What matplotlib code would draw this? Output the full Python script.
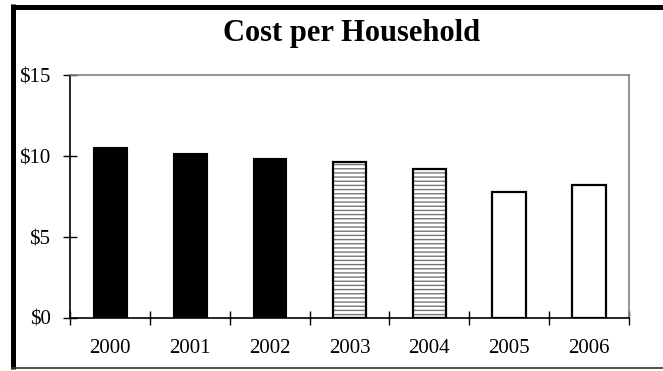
import numpy as np
import matplotlib.pyplot as plt
from matplotlib.lines import Line2D

# data
years = ['2000', '2001', '2002', '2003', '2004', '2005', '2006']
cost = [10.55, 10.2, 9.9, 9.6, 9.2, 7.75, 8.2]
bar_style = ['solid', 'solid', 'solid', 'hatch', 'hatch', 'open', 'open']
y_ticks = [0, 5, 10, 15]
y_labels = ['$0', '$5', '$10', '$15']

plt.rcParams['font.family'] = ['Liberation Serif', 'DejaVu Serif']
plt.rcParams['hatch.linewidth'] = 1.0

fig = plt.figure(figsize=(6.63, 3.71), dpi=100)
ax = fig.add_axes([70/663, 53/371, 559/663, 243/371])

x = np.arange(len(years))
w = 0.42
for i, (v, s) in enumerate(zip(cost, bar_style)):
    if s == 'solid':
        ax.bar(x[i], v, w, color='black', edgecolor='black', linewidth=0.8)
    elif s == 'hatch':
        ax.bar(x[i], v, w, color='white', edgecolor='#777777', hatch='----', linewidth=0)
        ax.bar(x[i], v, w, fill=False, edgecolor='black', linewidth=1.6)
    else:
        ax.bar(x[i], v, w, color='white', edgecolor='black', linewidth=1.6)

ax.set_xlim(-0.5, len(years) - 0.5)
ax.set_ylim(0, 15)
ax.set_yticks(y_ticks)
ax.set_yticklabels(y_labels)
ax.set_xticks(x)
ax.set_xticklabels(years)
ax.set_xticks(np.arange(len(years) + 1) - 0.5, minor=True)

ax.tick_params(axis='y', direction='inout', length=10, width=1, pad=9, labelsize=15, color='black')
ax.tick_params(axis='x', which='major', length=0, pad=15, labelsize=15)
ax.tick_params(axis='x', which='minor', direction='inout', length=9.5, width=1, color='black')

for side in ['top', 'right']:
    ax.spines[side].set_color('#808080')
    ax.spines[side].set_linewidth(1.2)
for side in ['left', 'bottom']:
    ax.spines[side].set_color('black')
    ax.spines[side].set_linewidth(1.2)

fig.text(352/663, 1 - 34/371, 'Cost per Household', ha='center', va='center',
         fontsize=22, fontweight='bold')

# outer chart frame: heavy left and top, thin bottom
fig.add_artist(Line2D([13/663, 13/663], [1 - 4/371, 1 - 369/371], color='black', linewidth=3.6,
                      transform=fig.transFigure, solid_capstyle='butt'))
fig.add_artist(Line2D([11/663, 1], [1 - 6.5/371, 1 - 6.5/371], color='black', linewidth=3.6,
                      transform=fig.transFigure, solid_capstyle='butt'))
fig.add_artist(Line2D([11/663, 1], [1 - 368/371, 1 - 368/371], color='#333333', linewidth=1.2,
                      transform=fig.transFigure, solid_capstyle='butt'))

fig.savefig('out.png', dpi=100)
